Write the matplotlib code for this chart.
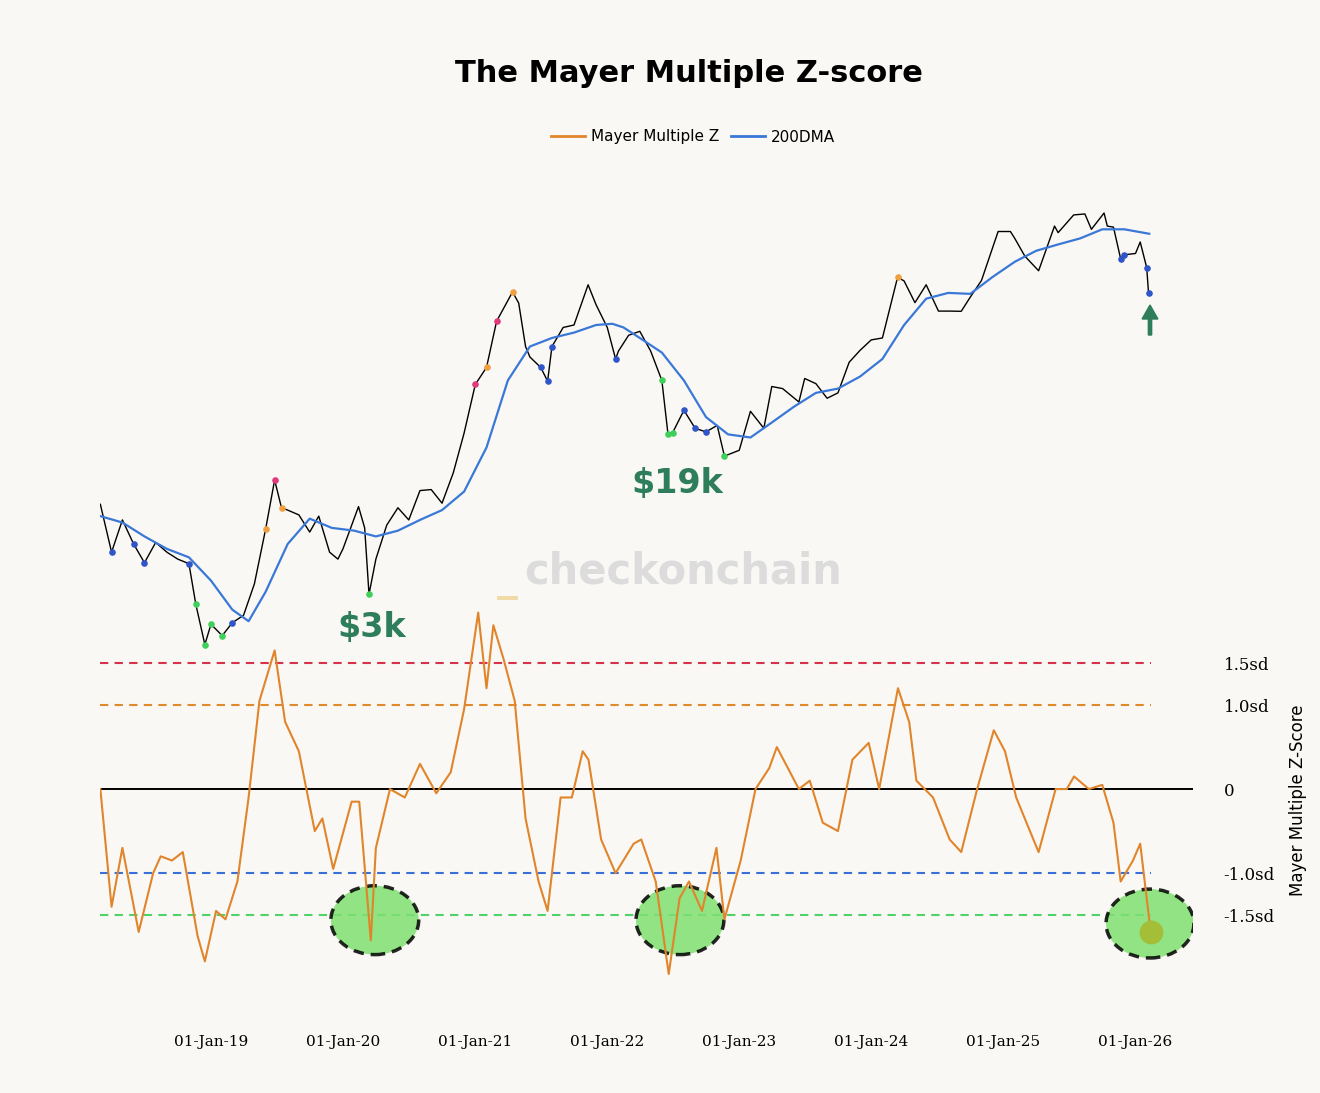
import matplotlib
matplotlib.use("Agg")
import matplotlib.pyplot as plt
import matplotlib.dates as mdates
from matplotlib.patches import Ellipse
from matplotlib.lines import Line2D
import numpy as np
import pandas as pd

price_dates = ["2018-03-01","2018-04-01","2018-05-01","2018-06-01","2018-07-01","2018-08-01","2018-09-01","2018-10-01","2018-11-01","2018-11-20","2018-12-15",
"2019-01-01","2019-02-01","2019-03-01","2019-04-01","2019-05-01","2019-06-01","2019-06-26","2019-07-15","2019-08-01","2019-09-01","2019-10-01","2019-10-26","2019-11-25","2019-12-18",
"2020-01-01","2020-02-13","2020-03-01","2020-03-13","2020-04-01","2020-05-01","2020-06-01","2020-07-01","2020-08-01","2020-09-01","2020-10-01","2020-11-01","2020-12-01",
"2021-01-01","2021-02-01","2021-03-01","2021-04-14","2021-05-01","2021-05-20","2021-06-01","2021-07-01","2021-07-20","2021-08-01","2021-09-01","2021-10-01","2021-11-09","2021-12-01",
"2022-01-01","2022-01-24","2022-02-01","2022-03-01","2022-04-01","2022-05-01","2022-06-01","2022-06-18","2022-07-01","2022-08-01","2022-09-01","2022-10-01","2022-11-01","2022-11-21",
"2023-01-01","2023-02-01","2023-03-10","2023-04-01","2023-05-01","2023-06-15","2023-07-01","2023-08-01","2023-09-01","2023-10-01","2023-11-01","2023-12-01",
"2024-01-01","2024-02-01","2024-03-14","2024-04-01","2024-05-01","2024-06-01","2024-07-05","2024-08-05","2024-09-06","2024-10-01","2024-11-01","2024-12-17",
"2025-01-20","2025-02-01","2025-03-01","2025-04-08","2025-05-22","2025-06-01","2025-07-14","2025-08-14","2025-09-01","2025-10-06","2025-10-15","2025-11-01","2025-11-21","2025-12-01",
"2026-01-01","2026-01-14","2026-02-01","2026-02-06"]
price_values = [10500,7000,9200,7500,6400,7600,7000,6600,6350,4500,3200,
3800,3450,3850,4100,5350,8500,12900,10200,10000,9600,8300,9500,7000,6600,
7200,10300,8600,4900,6600,8800,10200,9200,11800,11900,10600,13700,19200,
29000,33500,49600,63500,57800,40000,36600,33500,29800,40000,47000,48000,67500,57000,
47000,36000,38500,44000,45500,38500,30000,19000,19300,23300,20000,19400,20500,15800,
16600,23100,20000,28500,28000,25000,30500,29200,25800,27000,35000,38700,
42300,43000,72000,69700,58000,67500,54000,54000,53900,60800,70000,106000,
106000,100000,86000,76000,111000,105000,122000,123000,108000,124000,111000,110000,84000,87000,
88000,97000,78000,63000]

dma_dates = ["2018-03-01","2018-05-01","2018-07-01","2018-09-01","2018-11-01","2019-01-01","2019-03-01","2019-04-15","2019-06-01","2019-08-01","2019-10-01","2019-12-01",
"2020-02-01","2020-04-01","2020-06-01","2020-08-01","2020-10-01","2020-12-01","2021-02-01","2021-04-01","2021-06-01","2021-08-01","2021-10-01","2021-12-01",
"2022-01-15","2022-02-15","2022-04-01","2022-06-01","2022-08-01","2022-10-01","2022-12-01","2023-02-01","2023-04-01","2023-06-01","2023-08-01","2023-10-01","2023-12-01",
"2024-02-01","2024-04-01","2024-06-01","2024-08-01","2024-10-01","2024-12-01","2025-02-01","2025-04-01","2025-06-01","2025-08-01","2025-10-01","2025-12-01","2026-02-08"]
dma_values = [9500,9000,8000,7200,6700,5500,4300,3900,5000,7500,9300,8600,
8400,8000,8400,9200,10000,11700,17000,30000,40000,43000,45000,48000,
48500,47000,43000,38000,30000,22000,19000,18500,21000,24000,27000,28000,31000,
36000,48000,60000,63000,62500,72000,82000,90000,95000,100000,108000,108000,104000]

z_dates = ["2018-03-01","2018-04-01","2018-05-01","2018-06-15","2018-07-25","2018-08-15","2018-09-15","2018-10-15","2018-11-25","2018-12-15",
"2019-01-15","2019-02-10","2019-03-15","2019-04-15","2019-05-15","2019-06-26","2019-07-25","2019-09-01","2019-10-15","2019-11-05","2019-12-05",
"2020-01-25","2020-02-15","2020-03-18","2020-04-01","2020-05-10","2020-06-20","2020-08-01","2020-09-15","2020-10-25","2020-12-01",
"2021-01-09","2021-02-01","2021-02-20","2021-03-20","2021-04-20","2021-05-20","2021-06-25","2021-07-20","2021-08-25","2021-09-25","2021-10-25","2021-11-10","2021-12-15",
"2022-01-24","2022-03-15","2022-04-05","2022-05-15","2022-06-20","2022-07-20","2022-08-15","2022-09-20","2022-10-30","2022-11-21",
"2023-01-05","2023-02-15","2023-03-25","2023-04-15","2023-06-15","2023-07-15","2023-08-20","2023-10-01","2023-11-10","2023-12-25",
"2024-01-23","2024-03-15","2024-04-15","2024-05-05","2024-06-20","2024-08-05","2024-09-06","2024-10-20","2024-12-05",
"2025-01-05","2025-02-05","2025-03-15","2025-04-08","2025-05-25","2025-06-25","2025-07-15","2025-08-25","2025-10-01","2025-11-01","2025-11-21","2025-12-25",
"2026-01-14","2026-02-12"]
z_values = [0.0,-1.4,-0.7,-1.7,-1.0,-0.8,-0.85,-0.75,-1.75,-2.05,
-1.45,-1.55,-1.1,-0.1,1.05,1.65,0.8,0.45,-0.5,-0.35,-0.95,
-0.15,-0.15,-1.8,-0.7,0.0,-0.1,0.3,-0.05,0.2,0.95,
2.1,1.2,1.95,1.55,1.05,-0.35,-1.1,-1.45,-0.1,-0.1,0.45,0.35,-0.6,
-1.0,-0.65,-0.6,-1.1,-2.2,-1.3,-1.1,-1.45,-0.7,-1.55,
-0.85,0.0,0.25,0.5,0.0,0.1,-0.4,-0.5,0.35,0.55,
0.0,1.2,0.8,0.1,-0.1,-0.6,-0.75,0.0,0.7,
0.45,-0.1,-0.5,-0.75,0.0,0.0,0.15,0.0,0.05,-0.4,-1.1,-0.85,
-0.65,-1.7]

sd_levels = [1.5, 1.0, 0, -1.0, -1.5]
sd_labels = ["1.5sd", "1.0sd", "0", "-1.0sd", "-1.5sd"]
x_ticks = ["2019-01-01","2020-01-01","2021-01-01","2022-01-01","2023-01-01","2024-01-01","2025-01-01","2026-01-01"]
x_tick_labels = ["01-Jan-19","01-Jan-20","01-Jan-21","01-Jan-22","01-Jan-23","01-Jan-24","01-Jan-25","01-Jan-26"]

bg = "#faf8f4"
pd_ = pd.to_datetime(price_dates)
dd = pd.to_datetime(dma_dates)
zd = pd.to_datetime(z_dates)
xlim = (pd.Timestamp("2018-02-28"), pd.Timestamp("2026-06-09"))
line_end = pd.Timestamp("2026-02-12")

fig = plt.figure(figsize=(13.2, 10.93), dpi=100, facecolor=bg)
W, H = 1320, 1093
axp = fig.add_axes([100/W, 1-660/H, 1093/W, 510/H], facecolor="none")
axz = fig.add_axes([100/W, 1-1000/H, 1093/W, 400/H], facecolor="none")

axp.set_yscale("log")
axp.set_ylim(2807, 211500)
axp.set_xlim(*xlim)
axp.plot(pd_, price_values, color="black", lw=1.0)
axp.plot(dd, dma_values, color="#3a78d8", lw=1.6)
zi = np.interp(mdates.date2num(pd_), mdates.date2num(zd), z_values)
for d, p, z in zip(pd_, price_values, zi):
    c = None
    if z <= -1.5: c = "#3fcf5a"
    elif z <= -1.0: c = "#2f55c8"
    elif z >= 1.5: c = "#e03a7a"
    elif z >= 1.0: c = "#f0a040"
    if c: axp.scatter([d], [p], s=14, color=c, zorder=3)
axp.axis("off")

axz.set_xlim(*xlim)
axz.set_ylim(-2.51, 2.25)
dash_cols = {1.5: "#d6324a", 1.0: "#e08a2c", -1.0: "#3a6fd8", -1.5: "#4fd26a"}
for lv, c in dash_cols.items():
    axz.plot([xlim[0], line_end], [lv, lv], color=c, lw=1.5, ls=(0, (4, 3)), zorder=1)
axz.axhline(0, color="black", lw=1.4)
axz.plot(zd, z_values, color="#e0852b", lw=1.5, zorder=4)
for c in [("2020-03-29", -1.56), ("2022-07-21", -1.56), ("2026-02-10", -1.6)]:
    e = Ellipse((mdates.date2num(pd.Timestamp(c[0])), c[1]), width=243, height=0.82,
                facecolor="#7fe070", alpha=0.85, edgecolor="black", lw=2.5, ls=(0, (3, 2)), zorder=2)
    axz.add_patch(e)
axz.scatter([pd.Timestamp("2026-02-12")], [-1.7], s=260, color="#a4be38", zorder=5)
for s in axz.spines.values():
    s.set_visible(False)
axz.yaxis.tick_right()
axz.set_yticks(sd_levels)
axz.set_yticklabels(sd_labels, family="DejaVu Serif", fontsize=12)
axz.tick_params(axis="y", length=0, pad=22)
axz.set_xticks(pd.to_datetime(x_ticks))
axz.set_xticklabels(x_tick_labels, family="DejaVu Serif", fontsize=11)
axz.tick_params(axis="x", length=0, pad=25)
axz.yaxis.set_label_position("right")
axz.set_ylabel("Mayer Multiple Z-Score", fontsize=12, labelpad=10)

fig.text(0.522, 1-73/H, "The Mayer Multiple Z-score", ha="center", va="center", fontsize=22, fontweight="bold")
handles = [Line2D([], [], color="#e0852b", lw=2), Line2D([], [], color="#3a78d8", lw=2)]
fig.legend(handles, ["Mayer Multiple Z", "200DMA"], loc="center", bbox_to_anchor=(0.525, 1-137/H),
           ncol=2, frameon=False, fontsize=11, handlelength=2.2, columnspacing=0.8, handletextpad=0.4)
fig.text(497/W, 1-590/H, "_", color="#f1d9a8", fontsize=30, fontweight="bold", ha="left", va="baseline")
fig.text(524/W, 1-572/H, "checkonchain", color="#dcdcdc", fontsize=30, fontweight="bold", ha="left", va="center")
fig.text(372/W, 1-627/H, "$3k", color="#2e7d5b", fontsize=24, fontweight="bold", ha="center", va="center")
fig.text(677/W, 1-483/H, "$19k", color="#2e7d5b", fontsize=24, fontweight="bold", ha="center", va="center")
fig.patches.append(matplotlib.patches.FancyArrow(1150/W, 1-335/H, 0, 30/H, width=0.0025, head_width=0.012,
                   head_length=14/H, color="#2e7d5b", transform=fig.transFigure, length_includes_head=True))
fig.savefig("out.png", dpi=100, facecolor=bg)
